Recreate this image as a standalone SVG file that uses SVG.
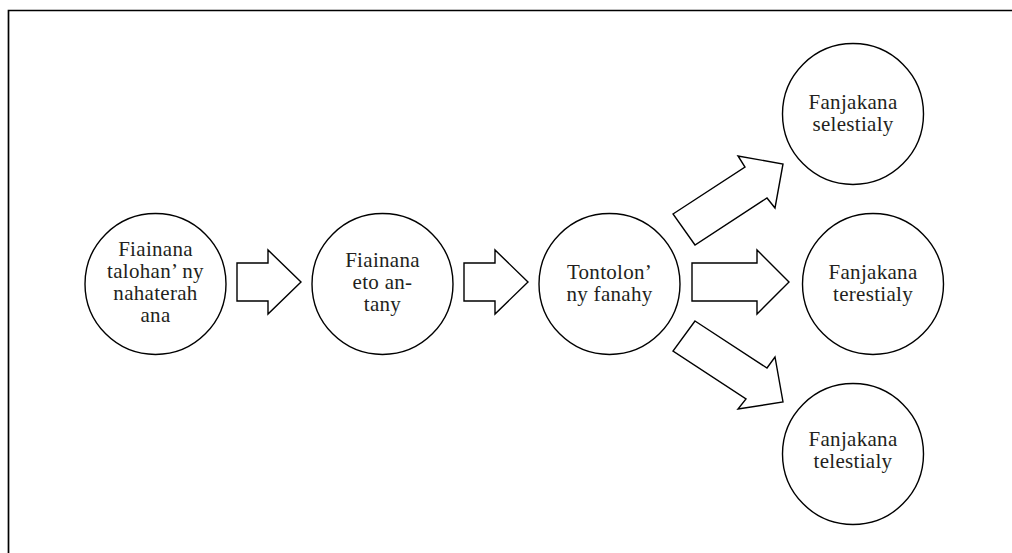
<svg xmlns="http://www.w3.org/2000/svg" width="1012" height="553" viewBox="0 0 1012 553">
<style>
.c{fill:#fff;stroke:#000;stroke-width:1.4}
.a{fill:#fff;stroke:#000;stroke-width:1.4;stroke-linejoin:miter}
.t{font-family:"Liberation Serif","Times New Roman",serif;font-size:21px;letter-spacing:0.3px;fill:#231f20;text-anchor:middle}
</style>
<rect width="1012" height="553" fill="#fff"/>
<path d="M8.5,553 V10.5 H1012" fill="none" stroke="#000" stroke-width="1.7"/>
<g id="connectors">
<polygon class="a" points="237,263 268,263 268,250 301,282 268,314 268,301 237,301"/>
<polygon class="a" points="464,263 495,263 495,250 528,282 495,314 495,301 464,301"/>
<polygon class="a" points="692,263 757,263 757,250 789,282 757,314 757,301 692,301"/>
<polygon class="a" points="673,214 745,167 738,156 783,164 775,208 767,198 695,245"/>
<polygon class="a" points="695,321 767,368 775,357 783,402 738,409 746,399 673,351"/>
</g>
<g id="n1">
<circle class="c" cx="155.5" cy="284" r="70.5"/>
<text class="t" x="155.5" y="256">Fiainana</text>
<text class="t" x="155.5" y="278">talohan’ ny</text>
<text class="t" x="155.5" y="300">nahaterah</text>
<text class="t" x="155.5" y="322">ana</text>
</g>
<g id="n2">
<circle class="c" cx="382.5" cy="284" r="70.5"/>
<text class="t" x="382.5" y="267">Fiainana</text>
<text class="t" x="382.5" y="289">eto an-</text>
<text class="t" x="382.5" y="311">tany</text>
</g>
<g id="n3">
<circle class="c" cx="609.5" cy="284" r="70.5"/>
<text class="t" x="609.5" y="279">Tontolon’</text>
<text class="t" x="609.5" y="301">ny fanahy</text>
</g>
<g id="n4">
<circle class="c" cx="853" cy="114" r="70.5"/>
<text class="t" x="853" y="109">Fanjakana</text>
<text class="t" x="853" y="131">selestialy</text>
</g>
<g id="n5">
<circle class="c" cx="873" cy="284" r="70.5"/>
<text class="t" x="873" y="279">Fanjakana</text>
<text class="t" x="873" y="301">terestialy</text>
</g>
<g id="n6">
<circle class="c" cx="853" cy="454" r="70.5"/>
<text class="t" x="853" y="446">Fanjakana</text>
<text class="t" x="853" y="468">telestialy</text>
</g>
</svg>
